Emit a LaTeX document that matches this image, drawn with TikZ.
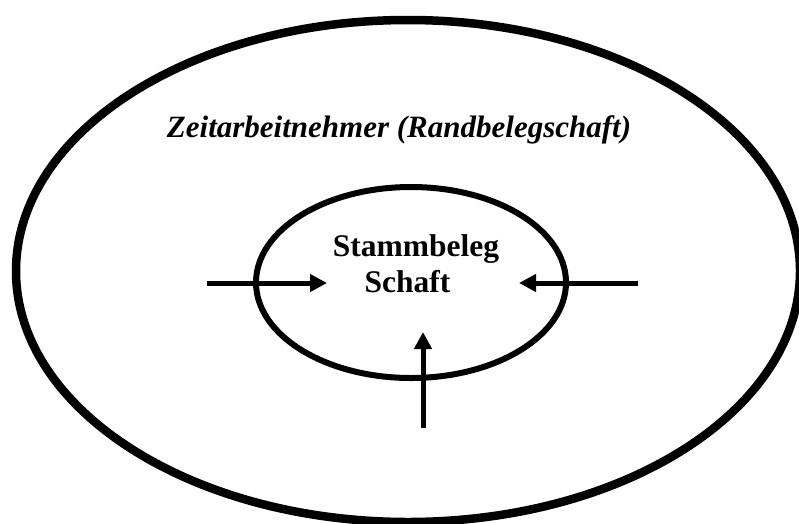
\documentclass[tikz,border=0pt]{standalone}
\usepackage{fontspec}
\setmainfont{Liberation Serif}
\usetikzlibrary{shapes.geometric,arrows.meta}
\begin{document}
\begin{tikzpicture}[x=1pt,y=-1pt,
  ring/.style={draw=black,ellipse,inner sep=0pt},
  push/.style={line width=5pt,-{Triangle[length=17pt,width=17pt]}},
  lbl/.style={inner sep=0pt,anchor=base,font=\fontsize{31.5}{36}\selectfont\bfseries}]
\useasboundingbox (0,0) rectangle (799,523);
\node[ring,line width=8.5pt,minimum width=784pt,minimum height=502pt] (outer) at (408,271) {};
\node[ring,line width=6pt,minimum width=310pt,minimum height=191pt] (inner) at (411,282.5) {};
\node[lbl,font=\fontsize{31}{36}\selectfont\bfseries\itshape] (outerlbl) at (399,137) {Zeitarbeitnehmer (Randbelegschaft)};
\node[lbl] (top) at (416,256) {Stammbeleg};
\node[lbl] (bot) at (407.5,292) {Schaft};
\coordinate (lstart) at (207,283);
\coordinate (lend) at (327,283);
\coordinate (rstart) at (638,283);
\coordinate (rend) at (519,283);
\coordinate (bstart) at (423,428);
\coordinate (bend) at (423,332);
\draw[push] (lstart) -- (lend);
\draw[push] (rstart) -- (rend);
\draw[push] (bstart) -- (bend);
\end{tikzpicture}
\end{document}
